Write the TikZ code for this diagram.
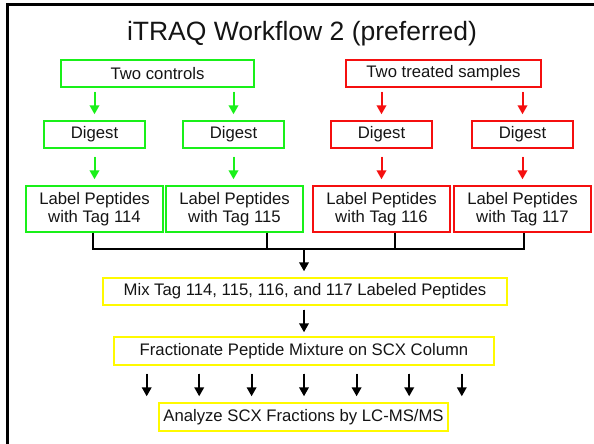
\documentclass[tikz,border=0pt]{standalone}
\usepackage{fontspec}
\setmainfont{Liberation Sans}
\usetikzlibrary{arrows.meta}

\definecolor{ctrlgreen}{RGB}{25,240,25}
\definecolor{treatred}{RGB}{245,15,15}
\definecolor{mixyellow}{RGB}{255,250,0}
\definecolor{inktext}{RGB}{20,20,20}

\tikzset{
  box/.style={draw, line width=1.4pt, inner sep=0pt, text=inktext,
    font=\fontsize{16.7}{18.5}\selectfont, align=center},
  gbox/.style={box, draw=ctrlgreen},
  rbox/.style={box, draw=treatred},
  ybox/.style={box, draw=mixyellow},
  flow/.style={line width=2pt, -{Triangle[width=9.5pt,length=9pt]}},
  garrow/.style={flow, draw=ctrlgreen, fill=ctrlgreen},
  rarrow/.style={flow, draw=treatred, fill=treatred},
  karrow/.style={flow, draw=black, fill=black},
  joinline/.style={line width=2.5pt, draw=black},
}

\begin{document}
\begin{tikzpicture}[x=1pt, y=-1pt]
\useasboundingbox (0,0) rectangle (594,444);

% outer frame (left and top edges)
\draw[line width=3pt, line cap=rect] (7.5,444) -- (7.5,4.5) -- (594,4.5);

% title
\node[anchor=base, text=inktext, font=\fontsize{26.5}{30}\selectfont, inner sep=0pt]
  (title) at (302,41) {iTRAQ Workflow 2 (preferred)};

% sample groups
\node[gbox, minimum width=193pt, minimum height=27pt] (ctrl) at (157.5,73.5) {Two controls};
\node[rbox, minimum width=195pt, minimum height=27pt] (trt)  at (443.5,73.5) {Two treated samples};

% digestion
\node[gbox, minimum width=101pt, minimum height=27pt] (dig1) at (94.5,134.5)  {Digest};
\node[gbox, minimum width=101pt, minimum height=27pt] (dig2) at (233.5,134.5) {Digest};
\node[rbox, minimum width=101pt, minimum height=27pt] (dig3) at (381.5,134.5) {Digest};
\node[rbox, minimum width=101pt, minimum height=27pt] (dig4) at (522.5,134.5) {Digest};

% labelling
\node[gbox, minimum width=137pt, minimum height=46pt] (lab1) at (94.5,209)  {Label Peptides\\with Tag 114};
\node[gbox, minimum width=137pt, minimum height=46pt] (lab2) at (234.5,209) {Label Peptides\\with Tag 115};
\node[rbox, minimum width=137pt, minimum height=46pt] (lab3) at (381.5,209) {Label Peptides\\with Tag 116};
\node[rbox, minimum width=137pt, minimum height=46pt] (lab4) at (522.5,209) {Label Peptides\\with Tag 117};

% pooled steps
\node[ybox, minimum width=404pt, minimum height=27pt] (mix)  at (305,291.5) {Mix Tag 114, 115, 116, and 117 Labeled Peptides};
\node[ybox, minimum width=380pt, minimum height=28pt] (frac) at (304,351)   {Fractionate Peptide Mixture on SCX Column};
\node[ybox, minimum width=289pt, minimum height=28pt] (ana)  at (303.5,417) {Analyze SCX Fractions by LC-MS/MS};

% samples -> digest
\draw[garrow, shorten <=4pt, shorten >=6pt] (ctrl.south -| dig1) -- (dig1.north);
\draw[garrow, shorten <=4pt, shorten >=6pt] (ctrl.south -| dig2) -- (dig2.north);
\draw[rarrow, shorten <=4pt, shorten >=6pt] (trt.south -| dig3) -- (dig3.north);
\draw[rarrow, shorten <=4pt, shorten >=6pt] (trt.south -| dig4) -- (dig4.north);

% digest -> label
\draw[garrow, shorten <=8pt, shorten >=6pt] (dig1.south) -- (lab1.north -| dig1);
\draw[garrow, shorten <=8pt, shorten >=6pt] (dig2.south) -- (lab2.north -| dig2);
\draw[rarrow, shorten <=8pt, shorten >=6pt] (dig3.south) -- (lab3.north -| dig3);
\draw[rarrow, shorten <=8pt, shorten >=6pt] (dig4.south) -- (lab4.north -| dig4);

% joining bracket
\coordinate (j1) at (93,249);
\coordinate (j2) at (267,249);
\coordinate (j3) at (395,249);
\coordinate (j4) at (524,249);
\coordinate (jm) at (304,249);
\draw[joinline] (j1 |- lab1.south) -- (j1) -- (j4) -- (j4 |- lab4.south);
\draw[joinline] (j2 |- lab2.south) -- (j2);
\draw[joinline] (j3 |- lab3.south) -- (j3);
\draw[karrow, shorten >=6pt] (jm) -- (jm |- mix.north);

% mix -> fractionate
\draw[karrow, shorten <=4pt, shorten >=4pt] (mix.south -| frac) -- (frac.north);

% fractions -> analysis
\foreach \fx [count=\k] in {146.7,199.2,251.6,304,356.6,409.2,461.8} {
  \coordinate (f\k) at (\fx,0);
  \draw[karrow, shorten <=8pt, shorten >=6pt] (f\k |- frac.south) -- (f\k |- ana.north);
}
\end{tikzpicture}
\end{document}
